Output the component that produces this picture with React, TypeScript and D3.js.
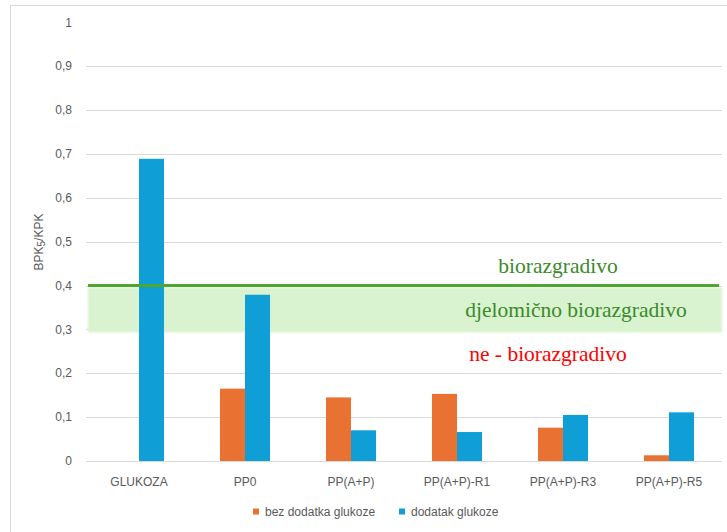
import * as d3 from 'd3';

const categories = ['GLUKOZA', 'PP0', 'PP(A+P)', 'PP(A+P)-R1', 'PP(A+P)-R3', 'PP(A+P)-R5'];
const seriesNames = ['bez dodatka glukoze', 'dodatak glukoze'];
const bezGlukoze = [0, 0.165, 0.145, 0.153, 0.076, 0.013];
const dodatakGlukoze = [0.689, 0.379, 0.07, 0.066, 0.105, 0.111];
const yTicks = [0, 0.1, 0.2, 0.3, 0.4, 0.5, 0.6, 0.7, 0.8, 0.9, 1];
const threshold = 0.4;
const bandLow = 0.3;

const colors = ['#e97132', '#0f9ed5'];
const W = 727;
const H = 532;
const axisFont = "'Liberation Sans', Arial, sans-serif";
const serif = "'Liberation Serif', 'Times New Roman', serif";

export default function App() {
  const x0 = d3.scaleBand<string>().domain(categories).range([86, 722]).paddingInner(0.528).paddingOuter(0.264);
  const x1 = d3.scaleBand<string>().domain(seriesNames).range([0, x0.bandwidth()]);
  const y = d3.scaleLinear().domain([0, 1]).range([461, 22.4]);
  const fmt = (v: number) => d3.format('.1~f')(v).replace('.', ',');
  const series = [bezGlukoze, dodatakGlukoze];

  return (
    <div style={{ position: 'absolute', left: 0, top: 0 }}>
      <svg width={W} height={H} style={{ display: 'block', background: '#fff' }}>
        <defs>
          <filter id="soft" x="-5%" y="-30%" width="110%" height="160%">
            <feGaussianBlur stdDeviation="0.8" />
          </filter>
        </defs>
        <rect x={10.5} y={5.5} width={800} height={600} fill="#fff" stroke="#d9d9d9" />

        {/* gridlines */}
        {yTicks.filter(t => t < 1).map(t => (
          <line key={t} x1={86} x2={722} y1={Math.round(y(t)) + 0.5} y2={Math.round(y(t)) + 0.5}
            stroke="#d9d9d9" strokeWidth={1} />
        ))}

        {/* y tick labels */}
        {yTicks.map(t => (
          <text key={t} x={72} y={y(t)} dy="0.35em" textAnchor="end" fontFamily={axisFont}
            fontSize={12} fill="#595959">{fmt(t)}</text>
        ))}

        {/* partial band */}
        <rect x={88} y={y(threshold) + 2} width={634} height={y(bandLow) - y(threshold) + 1}
          fill="#d9f2d0" filter="url(#soft)" />

        {/* bars */}
        {categories.map((c, i) => (
          <g key={c} transform={`translate(${x0(c)},0)`}>
            {seriesNames.map((s, j) => {
              const v = series[j][i];
              if (v <= 0) return null;
              return (
                <rect key={s} x={x1(s)} y={y(v)} width={x1.bandwidth()} height={y(0) - y(v)} fill={colors[j]} />
              );
            })}
          </g>
        ))}

        {/* threshold line */}
        <line x1={88} x2={719} y1={y(threshold)} y2={y(threshold)} stroke="#4ea72e" strokeWidth={3} />

        {/* annotations */}
        <text x={558} y={273} textAnchor="middle" fontFamily={serif} fontSize={21.5} fill="#3b8a2a">biorazgradivo</text>
        <text x={576} y={317} textAnchor="middle" fontFamily={serif} fontSize={21.5} fill="#3b8a2a">djelomično biorazgradivo</text>
        <text x={548} y={361} textAnchor="middle" fontFamily={serif} fontSize={21.5} fill="#ff0000">ne - biorazgradivo</text>

        {/* x labels */}
        {categories.map(c => (
          <text key={c} x={(x0(c) ?? 0) + x0.bandwidth() / 2} y={485.5} textAnchor="middle"
            fontFamily={axisFont} fontSize={12} fill="#595959">{c}</text>
        ))}

        {/* y title */}
        <text transform={`translate(43,${242}) rotate(-90)`} textAnchor="middle" fontFamily={axisFont}
          fontSize={12} fill="#595959">
          BPK<tspan fontSize={10} dy={2}>5</tspan><tspan dy={-2}>/KPK</tspan>
        </text>

        {/* legend */}
        {seriesNames.map((s, j) => {
          const lx = [253, 399][j];
          return (
            <g key={s}>
              <rect x={lx} y={508.5} width={6} height={6} fill={colors[j]} />
              <text x={lx + 12} y={516} fontFamily={axisFont} fontSize={12} fill="#595959">{s}</text>
            </g>
          );
        })}
      </svg>
    </div>
  );
}
